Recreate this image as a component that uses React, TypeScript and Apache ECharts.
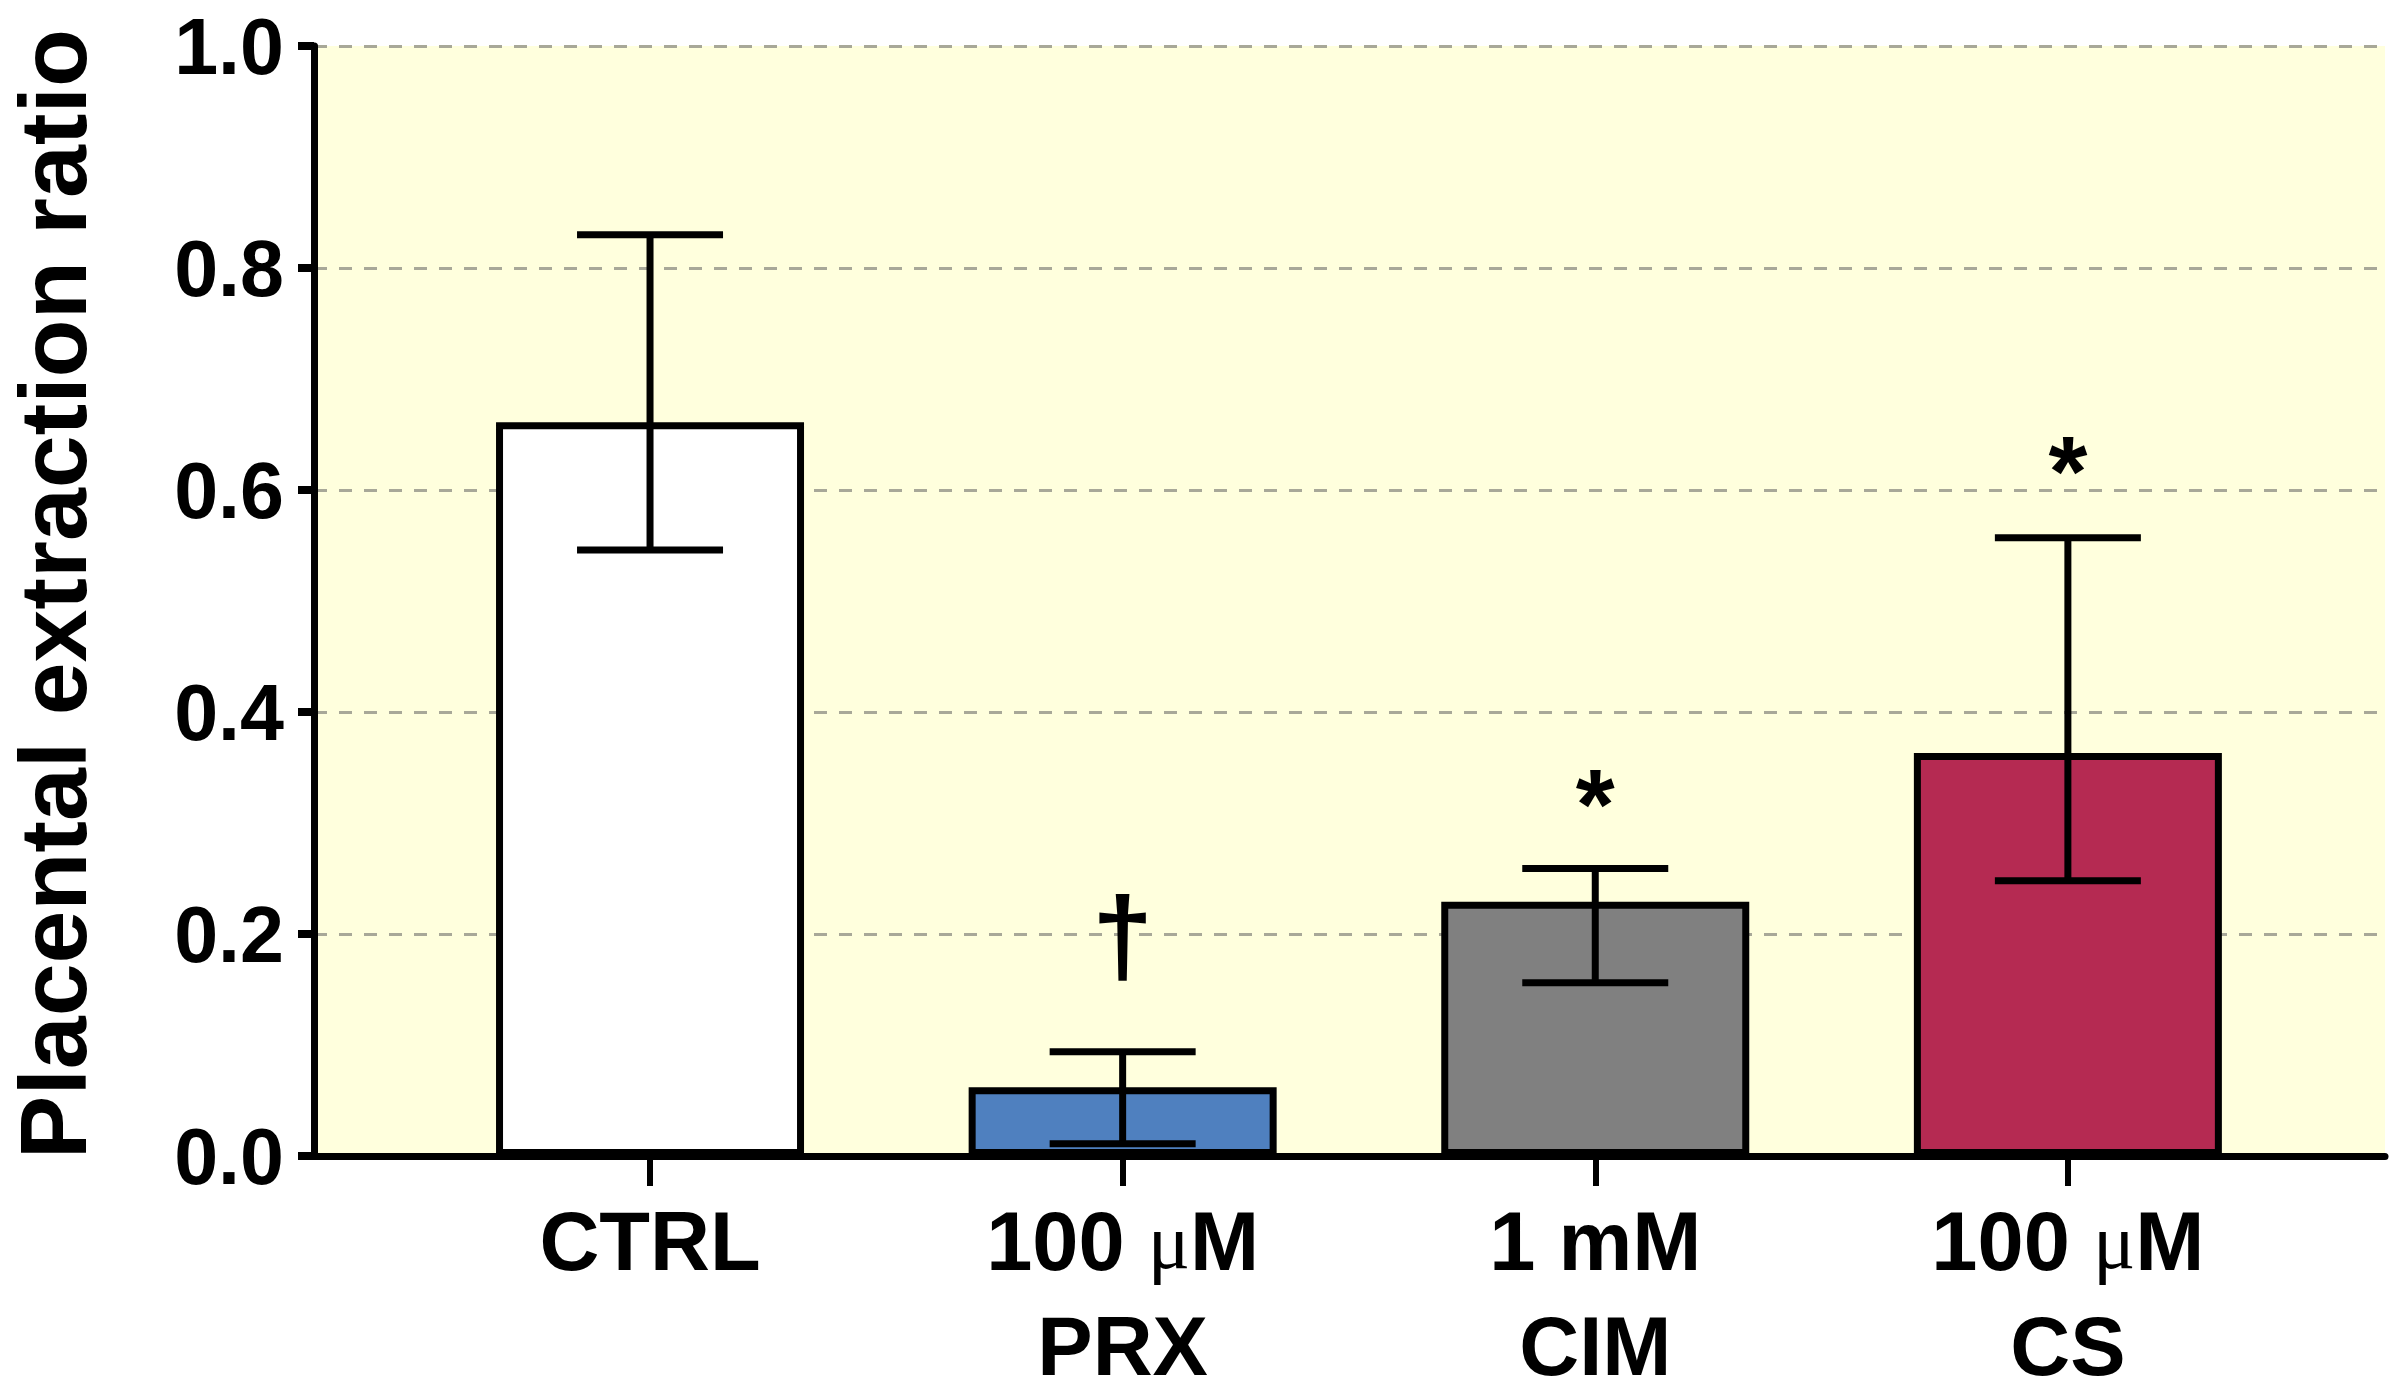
import React, { useEffect, useRef } from "react";
import * as echarts from "echarts";

const categories = ["CTRL", "100 µM PRX", "1 mM CIM", "100 µM CS"];
const means = [0.661, 0.062, 0.229, 0.363];
const errHigh = [0.83, 0.094, 0.259, 0.557];
const errLow = [0.546, 0.011, 0.156, 0.248];
const barColors = ["#FFFFFF", "#4F80BF", "#808080", "#B52A52"];
const annotations = ["", "†", "*", "*"];
const annotationY = [0, 0.2, 0.317, 0.617];
const yTicks = [0, 0.2, 0.4, 0.6, 0.8, 1.0];

const labelRich: Record<number, string> = {
  0: "{b|CTRL}",
  1: "{b|100 }{mu|μ}{b|M}\n{c|PRX}",
  2: "{b|1 mM}\n{c|CIM}",
  3: "{b|100 }{mu|μ}{b|M}\n{c|CS}",
};

export default function App() {
  const ref = useRef<HTMLDivElement>(null);
  useEffect(() => {
    document.body.style.margin = "0";
    const chart = echarts.init(ref.current!, null, { renderer: "svg" });
    const font = "'Liberation Sans', Arial, sans-serif";
    const xs = categories.map((_, i) => i);
    chart.setOption({
      animation: false,
      backgroundColor: "#FFFFFF",
      grid: {
        left: 314,
        right: 15,
        top: 46,
        bottom: 238,
        containLabel: false,
        outerBoundsMode: "none",
        show: true,
        backgroundColor: "#FFFFDD",
        borderWidth: 0,
      },
      xAxis: {
        type: "value",
        min: -0.711,
        max: 3.671,
        splitLine: { show: false },
        axisLine: { show: true, onZero: false, lineStyle: { color: "#000", width: 7 } },
        axisTick: {
          show: true,
          customValues: xs,
          length: 30,
          lineStyle: { color: "#000", width: 6 },
        },
        axisLabel: {
          show: true,
          customValues: xs,
          margin: 14,
          formatter: (v: number) => labelRich[Math.round(v)] ?? "",
          rich: {
            b: {
              fontFamily: font,
              fontWeight: "bold",
              fontSize: 83,
              color: "#000",
              lineHeight: 142,
            },
            c: {
              fontFamily: font,
              fontWeight: "bold",
              fontSize: 83,
              color: "#000",
              lineHeight: 68,
            },
            mu: {
              fontFamily: "'Liberation Serif', serif",
              fontWeight: "normal",
              fontSize: 79,
              color: "#000",
              lineHeight: 142,
            },
          },
        },
      },
      yAxis: {
        type: "value",
        min: 0,
        max: 1,
        interval: 0.2,
        name: "Placental extraction ratio",
        nameLocation: "middle",
        nameRotate: 90,
        nameGap: 214,
        nameTextStyle: {
          fontFamily: font,
          fontWeight: "bold",
          fontSize: 95,
          color: "#000",
          padding: [0, 0, 0, 14],
        },
        axisLine: { show: true, onZero: false, lineStyle: { color: "#000", width: 7 } },
        axisTick: { show: true, length: 16, lineStyle: { color: "#000", width: 8 } },
        axisLabel: {
          margin: 30,
          fontFamily: font,
          fontWeight: "bold",
          fontSize: 79,
          color: "#000",
          formatter: (v: number) => (yTicks.some((t) => Math.abs(t - v) < 1e-6) ? v.toFixed(1) : ""),
        },
        splitLine: {
          show: true,
          lineStyle: { color: "#A8A898", width: 3, type: [13, 12] },
        },
      },
      series: [
        {
          type: "bar",
          barWidth: 308,
          z: 2,
          data: means.map((m, i) => ({
            value: [i, m],
            itemStyle: { color: barColors[i], borderColor: "#000", borderWidth: 7 },
          })),
        },
        {
          type: "custom",
          z: 5,
          data: means.map((_, i) => [i, errLow[i], errHigh[i]]),
          renderItem: (params: any, api: any) => {
            const x = api.value(0);
            const lo = api.coord([x, api.value(1)]);
            const hi = api.coord([x, api.value(2)]);
            const half = 73;
            const style = { stroke: "#000", lineWidth: 7 };
            return {
              type: "group",
              children: [
                { type: "line", shape: { x1: lo[0], y1: lo[1], x2: hi[0], y2: hi[1] }, style },
                { type: "line", shape: { x1: hi[0] - half, y1: hi[1], x2: hi[0] + half, y2: hi[1] }, style },
                { type: "line", shape: { x1: lo[0] - half, y1: lo[1], x2: lo[0] + half, y2: lo[1] }, style },
              ],
            };
          },
        },
        {
          type: "custom",
          z: 6,
          data: annotations.map((a, i) => [i, annotationY[i], a]),
          renderItem: (params: any, api: any) => {
            const i = params.dataIndex;
            const txt = annotations[i];
            if (!txt) return null;
            const p = api.coord([api.value(0), api.value(1)]);
            const isDagger = txt === "†";
            return {
              type: "text",
              x: p[0],
              y: p[1],
              style: {
                text: txt,
                fontFamily: font,
                fontWeight: "bold",
                fontSize: isDagger ? 110 : 100,
                fill: "#000",
                align: "center",
                verticalAlign: "middle",
              },
            };
          },
        },
      ],
    });
    return () => chart.dispose();
  }, []);
  return <div ref={ref} style={{ width: 2400, height: 1394 }} />;
}
